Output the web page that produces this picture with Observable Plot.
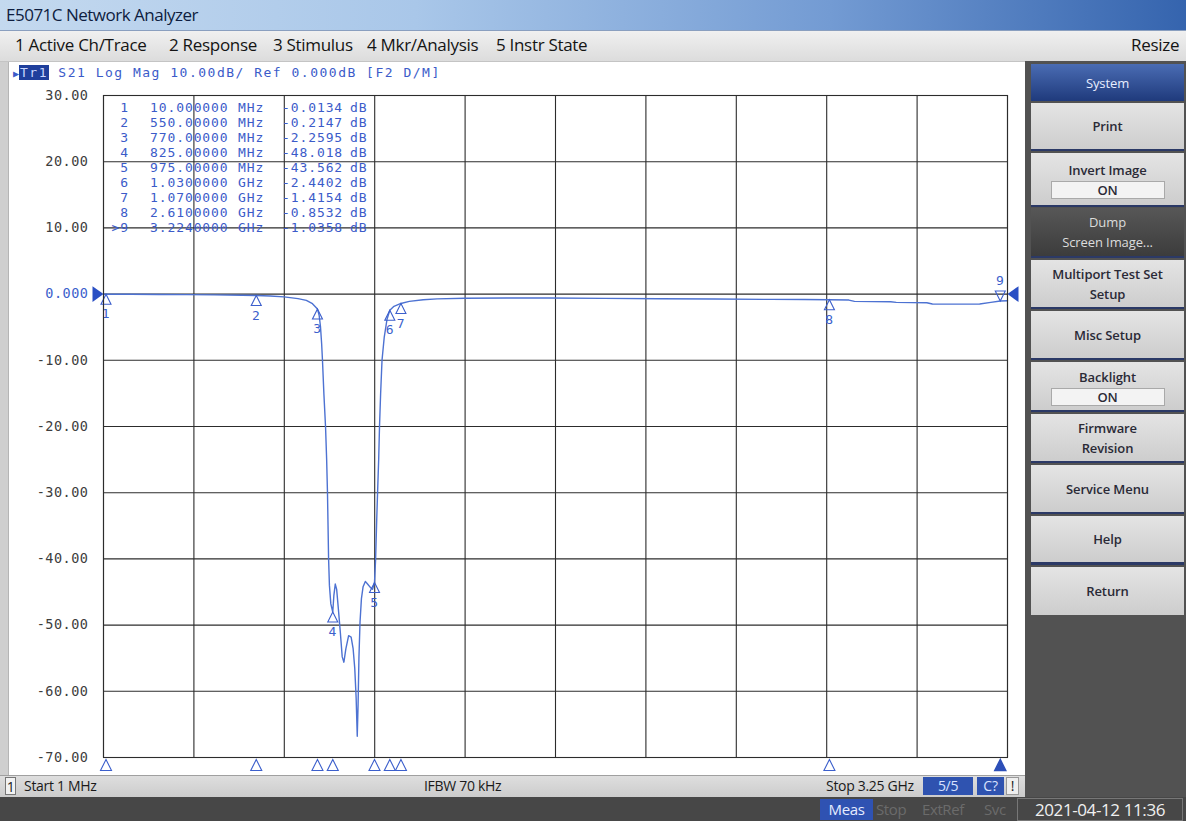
<!DOCTYPE html>
<html><head><meta charset="utf-8">
<script src="https://cdn.jsdelivr.net/npm/d3@7"></script>
<script src="https://cdn.jsdelivr.net/npm/@observablehq/plot@0.6"></script>
<style>
body{margin:0;width:1186px;height:821px;overflow:hidden;background:#c4c4c4;position:relative;font-family:"Open Sans",sans-serif;}
.a{position:absolute;}
.menu{top:33px;font-size:17px;color:#141414;white-space:nowrap;letter-spacing:-0.3px;}
.key{position:absolute;left:1031px;width:153px;background:linear-gradient(#e4e4e4,#cdcdcd);color:#2a2a36;font-weight:600;font-size:13px;text-align:center;display:flex;flex-direction:column;justify-content:center;line-height:20px;border-bottom:2px solid #2b3966;box-sizing:border-box;letter-spacing:-0.1px;}
.onbox{margin:1px auto 0;width:114px;height:18px;line-height:17px;background:#f3f3f3;border:1px solid #a9a9a9;font-weight:600;box-sizing:border-box;}
.stat{top:776px;font-size:14px;color:#1a1a1a;white-space:nowrap;letter-spacing:-0.3px;line-height:20px;}
.tbl{font-family:"DejaVu Sans Mono",monospace;font-size:13px;color:#3b5bc9;letter-spacing:0.9px;white-space:pre;}
</style></head><body>
<div class="a" style="left:0;top:0;width:1186px;height:30px;background:linear-gradient(to right,#c4d9ef 0%,#a9c7e9 35%,#739bd3 70%,#3564ae 100%);border-bottom:1px solid #8a9fbf;"></div>
<div class="a" style="left:6px;top:3px;font-size:17px;color:#0e1d3f;letter-spacing:-0.5px;">E5071C Network Analyzer</div>
<div class="a" style="left:0;top:31px;width:1186px;height:30px;background:linear-gradient(#f0f0f0,#dcdcdc);"></div>
<div class="a menu" style="left:15px;">1 Active Ch/Trace</div>
<div class="a menu" style="left:169px;">2 Response</div>
<div class="a menu" style="left:273px;">3 Stimulus</div>
<div class="a menu" style="left:367px;">4 Mkr/Analysis</div>
<div class="a menu" style="left:496px;">5 Instr State</div>
<div class="a menu" style="left:1131px;">Resize</div>

<div class="a" style="left:1025px;top:61px;width:161px;height:736px;background:#525252;"></div>
<div id="chartwin" class="a" style="left:8px;top:62px;width:1017px;height:713px;background:#fff;border-left:1px solid #b5b5b5;box-sizing:border-box;"></div>
<div class="a" style="left:0;top:62px;width:8px;height:735px;background:#cfcfcf;"></div>

<div class="a" style="left:0;top:775px;width:1025px;height:22px;background:linear-gradient(#dedede,#cccccc);border-top:1px solid #a0a0a0;box-sizing:border-box;"></div>
<div class="a stat" style="left:5px;top:777px;width:11px;height:18px;border:1px solid #777;background:#f2f2f2;text-align:center;line-height:17px;box-sizing:border-box;">1</div>
<div class="a stat" style="left:24px;">Start 1 MHz</div>
<div class="a stat" style="left:424px;">IFBW 70 kHz</div>
<div class="a stat" style="left:826px;">Stop 3.25 GHz</div>
<div class="a stat" style="left:923px;top:777px;width:50px;height:18px;background:#2f53b0;color:#d8e2ff;text-align:center;line-height:18px;">5/5</div>
<div class="a stat" style="left:977px;top:777px;width:27px;height:18px;background:#2f53b0;color:#d8e2ff;text-align:center;line-height:18px;">C?</div>
<div class="a stat" style="left:1006px;top:777px;width:13px;height:18px;background:#efefef;border:1px solid #999;box-sizing:border-box;text-align:center;line-height:16px;">!</div>

<div class="a" style="left:0;top:797px;width:1186px;height:24px;background:#474747;"></div>
<div class="a" style="left:820px;top:799px;width:53px;height:21px;background:#2f52b2;color:#e6ecff;font-size:15px;text-align:center;line-height:21px;letter-spacing:-0.4px;">Meas</div>
<div class="a" style="left:876px;top:799px;font-size:15px;color:#6b6b6b;line-height:21px;letter-spacing:-0.4px;">Stop</div>
<div class="a" style="left:922px;top:799px;font-size:15px;color:#6b6b6b;line-height:21px;letter-spacing:-0.4px;">ExtRef</div>
<div class="a" style="left:984px;top:799px;font-size:15px;color:#6b6b6b;line-height:21px;letter-spacing:-0.4px;">Svc</div>
<div class="a" style="left:1017px;top:798px;width:166px;height:23px;border:1px solid #777;box-sizing:border-box;font-size:17px;color:#f0f0f0;text-align:center;line-height:21px;letter-spacing:-0.4px;">2021-04-12 11:36</div>

<div class="key" style="top:64px;height:37px;background:linear-gradient(#4a6cb3,#1f3a7c);color:#e8eeff;font-weight:400;border-bottom:none;">System</div>
<div class="key" style="top:103px;height:48px;">Print</div>
<div class="key" style="top:153px;height:54px;">Invert Image<div class="onbox">ON</div></div>
<div class="key" style="top:208px;height:50px;background:linear-gradient(#575757,#3c3c3c);color:#dcdcdc;font-weight:400;">Dump<br>Screen Image...</div>
<div class="key" style="top:260px;height:49px;">Multiport Test Set<br>Setup</div>
<div class="key" style="top:311px;height:49px;">Misc Setup</div>
<div class="key" style="top:362px;height:50px;">Backlight<div class="onbox">ON</div></div>
<div class="key" style="top:414px;height:49px;">Firmware<br>Revision</div>
<div class="key" style="top:465px;height:49px;">Service Menu</div>
<div class="key" style="top:516px;height:49px;border-bottom:3px solid #2b3966;">Help</div>
<div class="key" style="top:567px;height:48px;border-bottom:none;">Return</div>

<script>
// ---- data ----
const startMHz = 1, stopMHz = 3250;
const freqMHz = [1,10,100,200,300,400,500,550,600,650,700,730,752,770,776,781,785,788,793,799,803,806,808,810,813,818,825,829,834,839,845,852,859,865,872,882,891,898,904,909,913,916,919,923,928,934,942,950,960,968,975,979,983,986,990,993,997,1002,1010,1020,1030,1045,1070,1100,1150,1200,1300,1450,1600,1800,2000,2200,2400,2520,2610,2680,2700,2830,2850,2960,2980,3100,3150,3190,3224,3250];
const magDB = [-0.01,-0.0134,-0.03,-0.05,-0.08,-0.12,-0.18,-0.2147,-0.28,-0.42,-0.68,-0.95,-1.45,-2.2595,-3.2,-5,-7.5,-10,-15,-20,-25,-30,-35,-40,-44,-46.8,-48.018,-45.5,-43.8,-44.6,-47.5,-51,-54.8,-55.6,-53.6,-51.6,-51.8,-53.5,-56.5,-61,-66.8,-62,-55,-49.5,-46,-44.2,-43.4,-43.8,-44.3,-44.6,-43.562,-40,-34,-30,-25,-20,-15,-10,-6.5,-3.8,-2.4402,-1.85,-1.4154,-1.1,-0.85,-0.72,-0.62,-0.6,-0.6,-0.64,-0.7,-0.75,-0.8,-0.82,-0.8532,-0.9,-1.1,-1.15,-1.25,-1.3,-1.5,-1.52,-1.5,-1.25,-1.0358,-1.0];
const markerId = [1,2,3,4,5,6,7,8,9];
const markerFreqMHz = [10,550,770,825,975,1030,1070,2610,3224];
const markerDB = [-0.0134,-0.2147,-2.2595,-48.018,-43.562,-2.4402,-1.4154,-0.8532,-1.0358];
const activeMarker = 9;
const yTicks = [30,20,10,0,-10,-20,-30,-40,-50,-60,-70];
const divisions = 10;

// ---- build ----
const trace = freqMHz.map((f,i)=>({f, db: magDB[i]}));
const markers = markerId.map((id,i)=>({id, f: markerFreqMHz[i], db: markerDB[i]}));
const xGrid = d3.range(divisions+1).map(i => startMHz + i*(stopMHz-startMHz)/divisions);
const blue = "#3c5fcc", trBlue = "#4d72d2", gridC = "#2c2c2c";

const triUp = {draw(c,size){const s=Math.sqrt(size);c.moveTo(0,0);c.lineTo(-s*0.5,s);c.lineTo(s*0.5,s);c.closePath();}};
const triDown = {draw(c,size){const s=Math.sqrt(size);c.moveTo(0,0);c.lineTo(-s*0.5,-s);c.lineTo(s*0.5,-s);c.closePath();}};
const triRight = {draw(c,size){const s=Math.sqrt(size);c.moveTo(0,0);c.lineTo(-s,-s*0.72);c.lineTo(-s,s*0.72);c.closePath();}};
const triLeft = {draw(c,size){const s=Math.sqrt(size);c.moveTo(0,0);c.lineTo(s,-s*0.72);c.lineTo(s,s*0.72);c.closePath();}};
const rFor = s => s/Math.sqrt(Math.PI);

const normal = markers.filter(m=>m.id!==activeMarker);
const active = markers.filter(m=>m.id===activeMarker);
const fmtY = d => d===0 ? "0.000" : d.toFixed(2);

const chart = Plot.plot({
  width: 1016, height: 713,
  marginLeft: 94, marginRight: 18, marginTop: 33, marginBottom: 18,
  x: {domain: [startMHz, stopMHz], axis: null},
  y: {domain: [-70, 30], axis: null},
  style: {background: "white", fontFamily: "DejaVu Sans Mono", fontSize: "13.5px", letterSpacing: "0.5px", overflow: "visible"},
  marks: [
    Plot.ruleX(xGrid, {x: d=>d, stroke: gridC, strokeWidth: 1.1}),
    Plot.ruleY(yTicks, {y: d=>d, stroke: gridC, strokeWidth: 1.1}),
    Plot.text(yTicks.filter(d=>d!==0), {y: d=>d, text: fmtY, frameAnchor: "left", dx: -15, textAnchor: "end", fill: "#3d3d3d"}),
    Plot.text([0], {y: d=>d, text: fmtY, frameAnchor: "left", dx: -15, textAnchor: "end", fill: blue}),
    Plot.line(trace, {x: "f", y: "db", stroke: trBlue, strokeWidth: 1.4}),
    Plot.dot(normal, {x: "f", y: "db", symbol: triUp, r: rFor(10), fill: "none", stroke: blue, strokeWidth: 1.1}),
    Plot.text(normal, {x: "f", y: "db", text: d=>String(d.id), dy: 20, fill: blue, fontSize: 13}),
    Plot.dot(active, {x: "f", y: "db", symbol: triDown, r: rFor(10), fill: "none", stroke: blue, strokeWidth: 1.1}),
    Plot.text(active, {x: "f", y: "db", text: d=>String(d.id), dy: -20, fill: blue, fontSize: 13}),
    Plot.dot(normal, {x: "f", frameAnchor: "bottom", dy: 2, symbol: triUp, r: rFor(11), fill: "white", stroke: blue, strokeWidth: 1.1}),
    Plot.dot(active, {x: "f", frameAnchor: "bottom", dy: 2, symbol: triUp, r: rFor(11), fill: "#2d4fb8", stroke: "#2d4fb8"}),
    Plot.dot([0], {y: d=>d, frameAnchor: "left", symbol: triRight, r: rFor(11), fill: "#2a4fc4"}),
    Plot.dot([0], {y: d=>d, frameAnchor: "right", symbol: triLeft, r: rFor(11), fill: "#2a4fc4"}),
    Plot.frame({stroke: gridC, strokeWidth: 1.1})
  ]
});
chart.style.position = "absolute"; chart.style.left = "0px"; chart.style.top = "0px";
document.getElementById("chartwin").appendChild(chart);

// header line
const hdr = document.createElement("div");
hdr.className = "a tbl";
hdr.style.cssText += "left:13px;top:65px;font-size:13px;letter-spacing:1.5px;line-height:16px;";
hdr.innerHTML = '<span style="font-size:10px;letter-spacing:0">&#9654;</span><span style="background:#1f3f9c;color:#c9d6ff;padding:0 1px">Tr1</span> S21 Log Mag 10.00dB/ Ref 0.000dB [F2 D/M]';
document.body.appendChild(hdr);

// marker table
const fmtF = f => f < 1000 ? (f).toPrecision(8) : (f/1000).toPrecision(8);
const fmtU = f => f < 1000 ? "MHz" : "GHz";
const fmtV = v => Math.abs(v) < 10 ? v.toFixed(4) : v.toFixed(3);
markers.forEach((m,i) => {
  const top = 100 + i*15;
  const cells = [
    [m.id===activeMarker ? ">"+m.id : String(m.id), 129, "end"],
    [fmtF(m.f), 150, "start"],
    [fmtU(m.f), 238, "start"],
    [fmtV(m.db), 282, "start"],
    ["dB", 350, "start"]
  ];
  cells.forEach(([t,x,anchor]) => {
    const el = document.createElement("div");
    el.className = "a tbl";
    el.textContent = t;
    el.style.top = top + "px";
    el.style.lineHeight = "15px";
    if (anchor === "end") { el.style.right = (1186 - x) + "px"; } else { el.style.left = x + "px"; }
    document.body.appendChild(el);
  });
});
</script>
</body></html>
